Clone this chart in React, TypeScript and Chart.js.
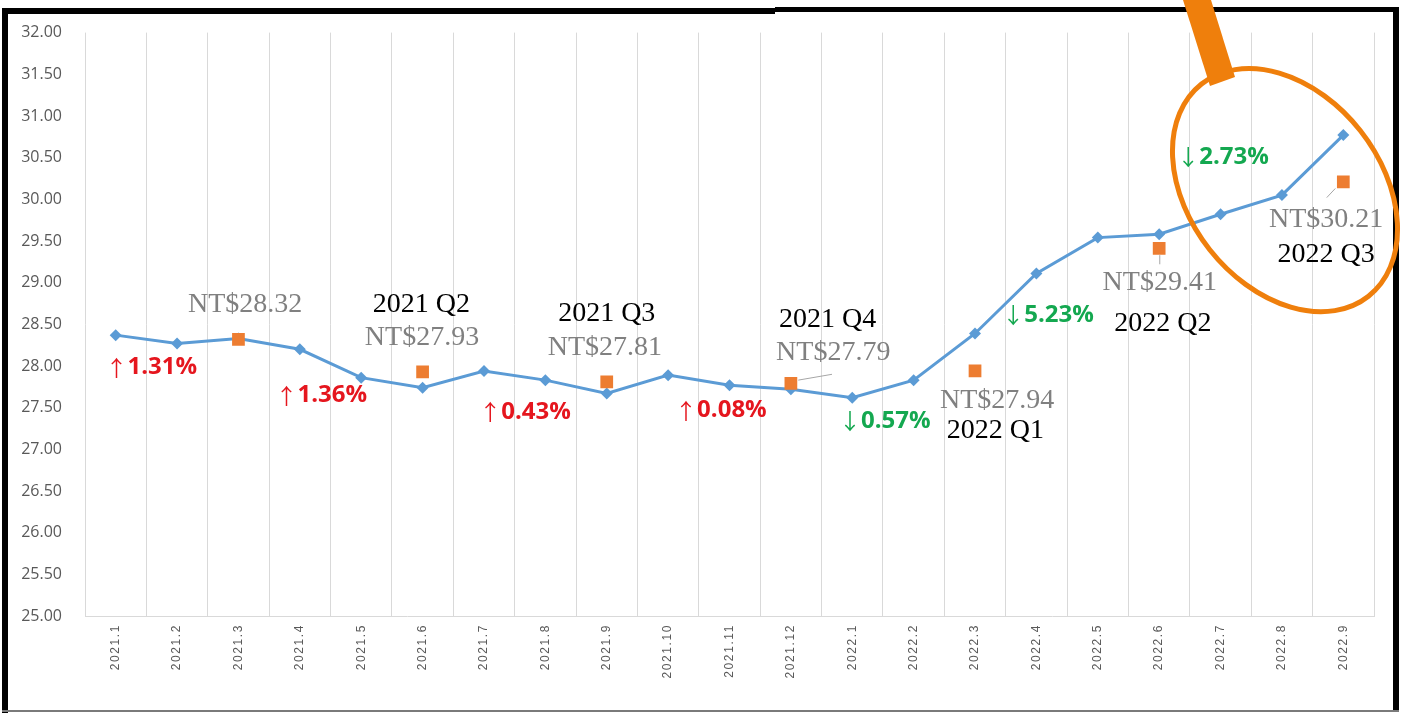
import React, { useEffect, useRef } from 'react';
import { Chart, registerables } from 'chart.js';

Chart.register(...registerables);

// ---------- data ----------
const categories = [
  '2021.1', '2021.2', '2021.3', '2021.4', '2021.5', '2021.6', '2021.7',
  '2021.8', '2021.9', '2021.10', '2021.11', '2021.12', '2022.1', '2022.2',
  '2022.3', '2022.4', '2022.5', '2022.6', '2022.7', '2022.8', '2022.9',
];

const monthlyRate = [
  28.37, 28.27, 28.33, 28.2, 27.86, 27.74, 27.94, 27.83, 27.67, 27.89, 27.77,
  27.72, 27.62, 27.83, 28.39, 29.11, 29.54, 29.58, 29.82, 30.05, 30.77,
];

const quarterAvg: (number | null)[] = [
  null, null, 28.32, null, null, 27.93, null, null, 27.81, null, null,
  27.79, null, null, 27.94, null, null, 29.41, null, null, 30.21,
];

const yMin = 25;
const yMax = 32;
const yStep = 0.5;

// annotation texts (placed in data coordinates: category index, value)
const priceLabels = [
  { text: 'NT$28.32', i: 2.11, v: 28.73 },
  { text: 'NT$27.93', i: 4.99, v: 28.34 },
  { text: 'NT$27.81', i: 7.97, v: 28.22 },
  { text: 'NT$27.79', i: 11.69, v: 28.16 },
  { text: 'NT$27.94', i: 14.36, v: 27.58 },
  { text: 'NT$29.41', i: 17.01, v: 29.0 },
  { text: 'NT$30.21', i: 19.72, v: 29.76 },
];

const quarterLabels = [
  { text: '2021 Q2', i: 4.98, v: 28.74 },
  { text: '2021 Q3', i: 8.0, v: 28.63 },
  { text: '2021 Q4', i: 11.6, v: 28.55 },
  { text: '2022 Q1', i: 14.33, v: 27.22 },
  { text: '2022 Q2', i: 17.06, v: 28.51 },
  { text: '2022 Q3', i: 19.72, v: 29.33 },
];

const changeLabels = [
  { arrow: '↑', pct: '1.31%', i: 0.58, v: 27.98 },
  { arrow: '↑', pct: '1.36%', i: 3.35, v: 27.65 },
  { arrow: '↑', pct: '0.43%', i: 6.67, v: 27.45 },
  { arrow: '↑', pct: '0.08%', i: 9.86, v: 27.47 },
  { arrow: '↓', pct: '0.57%', i: 12.53, v: 27.34 },
  { arrow: '↓', pct: '5.23%', i: 15.19, v: 28.61 },
  { arrow: '↓', pct: '2.73%', i: 18.04, v: 30.51 },
];

const leaderLines = [
  { i1: 11.12, v1: 27.83, i2: 11.67, v2: 27.9 },
  { i1: 17.01, v1: 29.33, i2: 17.01, v2: 29.22 },
  { i1: 19.87, v1: 30.13, i2: 19.73, v2: 30.02 },
];

const highlight = { i: 19.05, v: 30.11 };

// ---------- plugin ----------
const overlayPlugin = {
  id: 'overlay',
  afterLayout(chart: any) {
    const sx = chart.scales.x;
    if (sx && !sx.__ls) {
      const orig = sx.drawLabels.bind(sx);
      sx.drawLabels = (area: any) => {
        const c = chart.ctx;
        c.save();
        (c as any).letterSpacing = '1.6px';
        orig(area);
        c.restore();
      };
      sx.__ls = true;
    }
  },
  afterDraw(chart: any) {
    const ctx: CanvasRenderingContext2D = chart.ctx;
    const sx = chart.scales.x;
    const sy = chart.scales.y;
    const px = (i: number) => sx.getPixelForValue(i);
    const py = (v: number) => sy.getPixelForValue(v);

    ctx.save();
    // leader lines
    ctx.strokeStyle = '#a6a6a6';
    ctx.lineWidth = 1;
    leaderLines.forEach((l) => {
      ctx.beginPath();
      ctx.moveTo(px(l.i1), py(l.v1));
      ctx.lineTo(px(l.i2), py(l.v2));
      ctx.stroke();
    });

    ctx.textAlign = 'center';
    ctx.textBaseline = 'middle';
    ctx.font = '28px "Liberation Serif", serif';
    ctx.fillStyle = '#808080';
    priceLabels.forEach((t) => ctx.fillText(t.text, px(t.i), py(t.v)));
    ctx.fillStyle = '#000000';
    quarterLabels.forEach((t) => ctx.fillText(t.text, px(t.i), py(t.v)));

    // change labels: thin full-width arrow + bold percentage, centred as a group
    const arrowFont = '22px "Noto Sans CJK TC", "Noto Sans CJK SC", sans-serif';
    const pctFont = 'bold 24px "Open Sans", sans-serif';
    ctx.textAlign = 'left';
    changeLabels.forEach((t) => {
      ctx.fillStyle = t.arrow === '↑' ? '#e5161e' : '#14a850';
      ctx.font = arrowFont;
      const aw = ctx.measureText(t.arrow).width;
      ctx.font = pctFont;
      const pw = ctx.measureText(t.pct).width;
      const x0 = px(t.i) - (aw + pw) / 2;
      const y0 = py(t.v);
      ctx.font = arrowFont;
      ctx.fillText(t.arrow, x0, y0);
      ctx.font = pctFont;
      ctx.fillText(t.pct, x0 + aw, y0);
    });

    // frame
    ctx.fillStyle = '#000000';
    ctx.fillRect(2, 8, 773, 6);
    ctx.fillRect(775, 7, 624, 5);
    ctx.fillRect(2, 8, 6, 705);
    ctx.fillRect(1393, 7, 6, 704);
    ctx.fillStyle = '#7a7a7a';
    ctx.fillRect(2, 710, 1397, 2);

    // highlight ellipse
    ctx.strokeStyle = '#ef7f0c';
    ctx.lineWidth = 5;
    ctx.beginPath();
    ctx.ellipse(px(highlight.i), py(highlight.v), 135, 96, 0.904, 0, Math.PI * 2);
    ctx.stroke();

    // pointer bar
    ctx.fillStyle = '#ef7f0c';
    ctx.beginPath();
    ctx.moveTo(1183, 0);
    ctx.lineTo(1211, 0);
    ctx.lineTo(1235, 77);
    ctx.lineTo(1210, 86);
    ctx.closePath();
    ctx.fill();
    ctx.restore();
  },
};

export default function App() {
  const ref = useRef<HTMLCanvasElement | null>(null);

  useEffect(() => {
    if (!ref.current) return;
    const chart = new Chart(ref.current, {
      type: 'line',
      data: {
        labels: categories,
        datasets: [
          {
            label: 'quarter',
            data: quarterAvg,
            showLine: false,
            pointStyle: 'rect',
            pointRadius: 9,
            pointBackgroundColor: '#ed7d31',
            pointBorderColor: '#ed7d31',
            pointBorderWidth: 0,
            order: 0,
          },
          {
            label: 'monthly',
            data: monthlyRate,
            borderColor: '#5b9bd5',
            borderWidth: 3,
            pointStyle: 'rectRot',
            pointRadius: 6,
            pointBackgroundColor: '#5b9bd5',
            pointBorderColor: '#5b9bd5',
            pointBorderWidth: 0,
            tension: 0,
            order: 1,
          },
        ],
      },
      options: {
        responsive: false,
        animation: false,
        events: [],
        layout: { padding: { left: 0, top: 32, right: 27, bottom: 0 } },
        plugins: {
          legend: { display: false },
          tooltip: { enabled: false },
        },
        scales: {
          x: {
            offset: true,
            grid: { display: true, offset: true, color: '#d9d9d9', drawTicks: false, lineWidth: 1 },
            border: { display: true, color: '#d9d9d9' },
            ticks: {
              autoSkip: false,
              minRotation: 90,
              maxRotation: 90,
              padding: 8,
              color: '#595959',
              font: { family: '"Liberation Sans", sans-serif', size: 12 },
            },
            afterFit: (s: any) => {
              s.height = 97;
            },
          },
          y: {
            min: yMin,
            max: yMax,
            grid: { display: false, drawTicks: false },
            border: { display: false },
            ticks: {
              stepSize: yStep,
              padding: 23,
              color: '#595959',
              font: { family: '"Open Sans", sans-serif', size: 16 },
              callback: (v: any) => Number(v).toFixed(2),
            },
            afterFit: (s: any) => {
              s.width = 85;
            },
          },
        },
      },
      plugins: [overlayPlugin],
    } as any);
    return () => chart.destroy();
  }, []);

  return (
    <div style={{ position: 'fixed', left: 0, top: 0, width: 1401, height: 713, background: '#fff' }}>
      <canvas ref={ref} width={1401} height={713} style={{ display: 'block' }} />
    </div>
  );
}
